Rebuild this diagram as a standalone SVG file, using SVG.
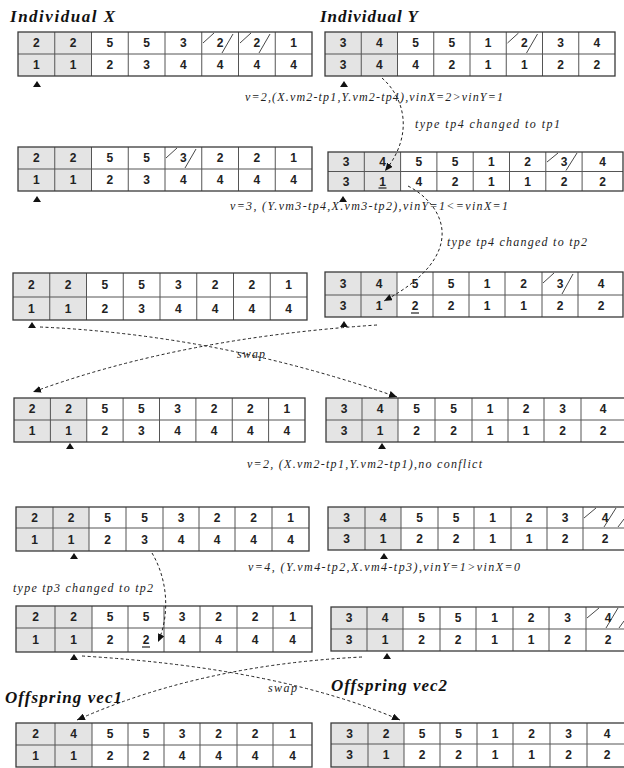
<svg xmlns="http://www.w3.org/2000/svg" width="624" height="768" viewBox="0 0 624 768">
<style>
.bg{fill:#fff}
.g{fill:#e4e4e4}
.ob{fill:none;stroke:#3a3a3a;stroke-width:1.3}
.il{stroke:#555;stroke-width:1}
.n{font-family:"Liberation Sans",Arial,sans-serif;font-weight:bold;font-size:12px;text-anchor:middle;fill:#222}
.t{font-family:"Liberation Serif","Times New Roman",serif;font-style:italic;font-weight:bold;font-size:17px;fill:#111}
.a{font-family:"Liberation Serif","Times New Roman",serif;font-style:italic;font-size:12px;fill:#222}
.h{stroke:#333;stroke-width:0.9}
.tri{fill:#111}
.d{fill:none;stroke:#222;stroke-width:1;stroke-dasharray:3 2.5}
.u{stroke:#222;stroke-width:1.2}
</style>
<defs>
<marker id="ah" markerUnits="userSpaceOnUse" markerWidth="9" markerHeight="7" refX="8" refY="3.5" orient="auto"><path d="M0,0 L8,3.5 L0,7 z" fill="#111"/></marker>
</defs>

<text class="t" x="10" y="22" textLength="105" lengthAdjust="spacing">Individual X</text>
<text class="t" x="320" y="22" textLength="98" lengthAdjust="spacing">Individual Y</text>

<!-- Row 1 left -->
<g id="t1l">
<rect class="bg" x="18" y="32" width="294" height="44"/>
<rect class="g" x="18" y="32" width="73.5" height="44"/>
<g class="il"><line x1="18" y1="54" x2="312" y2="54"/><line x1="54.75" y1="32" x2="54.75" y2="76"/><line x1="91.5" y1="32" x2="91.5" y2="76"/><line x1="128.25" y1="32" x2="128.25" y2="76"/><line x1="165" y1="32" x2="165" y2="76"/><line x1="201.75" y1="32" x2="201.75" y2="76"/><line x1="238.5" y1="32" x2="238.5" y2="76"/><line x1="275.25" y1="32" x2="275.25" y2="76"/></g>
<rect class="ob" x="18" y="32" width="294" height="44"/>
<g class="h"><line x1="203" y1="43" x2="214" y2="33"/><line x1="222" y1="53" x2="233" y2="34"/><line x1="240" y1="43" x2="251" y2="33"/><line x1="259" y1="53" x2="270" y2="34"/></g>
<text class="n" x="36.4" y="47.3">2</text><text class="n" x="73.1" y="47.3">2</text><text class="n" x="109.9" y="47.3">5</text><text class="n" x="146.6" y="47.3">5</text><text class="n" x="183.4" y="47.3">3</text><text class="n" x="220.1" y="47.3">2</text><text class="n" x="256.9" y="47.3">2</text><text class="n" x="293.6" y="47.3">1</text>
<text class="n" x="36.4" y="69.3">1</text><text class="n" x="73.1" y="69.3">1</text><text class="n" x="109.9" y="69.3">2</text><text class="n" x="146.6" y="69.3">3</text><text class="n" x="183.4" y="69.3">4</text><text class="n" x="220.1" y="69.3">4</text><text class="n" x="256.9" y="69.3">4</text><text class="n" x="293.6" y="69.3">4</text>
<polygon class="tri" points="33,87 41,87 37,81"/>
</g>

<!-- Row 1 right -->
<g id="t1r">
<rect class="bg" x="325" y="32" width="290" height="44"/>
<rect class="g" x="325" y="32" width="72.5" height="44"/>
<g class="il"><line x1="325" y1="54" x2="615" y2="54"/><line x1="361.25" y1="32" x2="361.25" y2="76"/><line x1="397.5" y1="32" x2="397.5" y2="76"/><line x1="433.75" y1="32" x2="433.75" y2="76"/><line x1="470" y1="32" x2="470" y2="76"/><line x1="506.25" y1="32" x2="506.25" y2="76"/><line x1="542.5" y1="32" x2="542.5" y2="76"/><line x1="578.75" y1="32" x2="578.75" y2="76"/></g>
<rect class="ob" x="325" y="32" width="290" height="44"/>
<g class="h"><line x1="507.5" y1="43" x2="518.5" y2="33"/><line x1="526.5" y1="53" x2="537.5" y2="34"/></g>
<text class="n" x="343.1" y="47.3">3</text><text class="n" x="379.4" y="47.3">4</text><text class="n" x="415.6" y="47.3">5</text><text class="n" x="451.9" y="47.3">5</text><text class="n" x="488.1" y="47.3">1</text><text class="n" x="524.4" y="47.3">2</text><text class="n" x="560.6" y="47.3">3</text><text class="n" x="596.9" y="47.3">4</text>
<text class="n" x="343.1" y="69.3">3</text><text class="n" x="379.4" y="69.3">4</text><text class="n" x="415.6" y="69.3">4</text><text class="n" x="451.9" y="69.3">2</text><text class="n" x="488.1" y="69.3">1</text><text class="n" x="524.4" y="69.3">1</text><text class="n" x="560.6" y="69.3">2</text><text class="n" x="596.9" y="69.3">2</text>
<polygon class="tri" points="340,87 348,87 344,81"/>
</g>

<!-- Row 2 left -->
<g id="t2l">
<rect class="bg" x="18" y="147" width="294" height="44"/>
<rect class="g" x="18" y="147" width="73.5" height="44"/>
<g class="il"><line x1="18" y1="169" x2="312" y2="169"/><line x1="54.75" y1="147" x2="54.75" y2="191"/><line x1="91.5" y1="147" x2="91.5" y2="191"/><line x1="128.25" y1="147" x2="128.25" y2="191"/><line x1="165" y1="147" x2="165" y2="191"/><line x1="201.75" y1="147" x2="201.75" y2="191"/><line x1="238.5" y1="147" x2="238.5" y2="191"/><line x1="275.25" y1="147" x2="275.25" y2="191"/></g>
<rect class="ob" x="18" y="147" width="294" height="44"/>
<g class="h"><line x1="166" y1="158" x2="177" y2="148"/><line x1="185" y1="168" x2="196" y2="149"/></g>
<text class="n" x="36.4" y="162.3">2</text><text class="n" x="73.1" y="162.3">2</text><text class="n" x="109.9" y="162.3">5</text><text class="n" x="146.6" y="162.3">5</text><text class="n" x="183.4" y="162.3">3</text><text class="n" x="220.1" y="162.3">2</text><text class="n" x="256.9" y="162.3">2</text><text class="n" x="293.6" y="162.3">1</text>
<text class="n" x="36.4" y="184.3">1</text><text class="n" x="73.1" y="184.3">1</text><text class="n" x="109.9" y="184.3">2</text><text class="n" x="146.6" y="184.3">3</text><text class="n" x="183.4" y="184.3">4</text><text class="n" x="220.1" y="184.3">4</text><text class="n" x="256.9" y="184.3">4</text><text class="n" x="293.6" y="184.3">4</text>
<polygon class="tri" points="33,202 41,202 37,196"/>
</g>

<!-- Row 2 right -->
<g id="t2r">
<rect class="bg" x="328" y="152" width="295" height="39"/>
<rect class="g" x="328" y="152" width="72.6" height="39"/>
<g class="il"><line x1="328" y1="171.5" x2="623" y2="171.5"/><line x1="364.3" y1="152" x2="364.3" y2="191"/><line x1="400.6" y1="152" x2="400.6" y2="191"/><line x1="436.9" y1="152" x2="436.9" y2="191"/><line x1="473.2" y1="152" x2="473.2" y2="191"/><line x1="509.5" y1="152" x2="509.5" y2="191"/><line x1="545.8" y1="152" x2="545.8" y2="191"/><line x1="582.1" y1="152" x2="582.1" y2="191"/></g>
<rect class="ob" x="328" y="152" width="295" height="39"/>
<g class="h"><line x1="547" y1="162" x2="558" y2="153"/><line x1="566" y1="170.5" x2="577" y2="153"/></g>
<text class="n" x="346.2" y="166">3</text><text class="n" x="382.5" y="166">4</text><text class="n" x="418.8" y="166">5</text><text class="n" x="455.1" y="166">5</text><text class="n" x="491.4" y="166">1</text><text class="n" x="527.7" y="166">2</text><text class="n" x="564" y="166">3</text><text class="n" x="602.5" y="166">4</text>
<text class="n" x="346.2" y="185.5">3</text><text class="n" x="382.5" y="185.5">1</text><text class="n" x="418.8" y="185.5">4</text><text class="n" x="455.1" y="185.5">2</text><text class="n" x="491.4" y="185.5">1</text><text class="n" x="527.7" y="185.5">1</text><text class="n" x="564" y="185.5">2</text><text class="n" x="602.5" y="185.5">2</text>
<line class="u" x1="378.5" y1="188" x2="386.5" y2="188"/>
<polygon class="tri" points="339,202 347,202 343,196"/>
</g>

<!-- Row 3 left -->
<g id="t3l">
<rect class="bg" x="13" y="273" width="294" height="47"/>
<rect class="g" x="13" y="273" width="73.5" height="47"/>
<g class="il"><line x1="13" y1="297" x2="307" y2="297"/><line x1="49.75" y1="273" x2="49.75" y2="320"/><line x1="86.5" y1="273" x2="86.5" y2="320"/><line x1="123.25" y1="273" x2="123.25" y2="320"/><line x1="160" y1="273" x2="160" y2="320"/><line x1="196.75" y1="273" x2="196.75" y2="320"/><line x1="233.5" y1="273" x2="233.5" y2="320"/><line x1="270.25" y1="273" x2="270.25" y2="320"/></g>
<rect class="ob" x="13" y="273" width="294" height="47"/>
<text class="n" x="31.4" y="289.3">2</text><text class="n" x="68.1" y="289.3">2</text><text class="n" x="104.9" y="289.3">5</text><text class="n" x="141.6" y="289.3">5</text><text class="n" x="178.4" y="289.3">3</text><text class="n" x="215.1" y="289.3">2</text><text class="n" x="251.9" y="289.3">2</text><text class="n" x="288.6" y="289.3">1</text>
<text class="n" x="31.4" y="312.8">1</text><text class="n" x="68.1" y="312.8">1</text><text class="n" x="104.9" y="312.8">2</text><text class="n" x="141.6" y="312.8">3</text><text class="n" x="178.4" y="312.8">4</text><text class="n" x="215.1" y="312.8">4</text><text class="n" x="251.9" y="312.8">4</text><text class="n" x="288.6" y="312.8">4</text>
<polygon class="tri" points="28,328 36,328 32,322"/>
</g>

<!-- Row 3 right -->
<g id="t3r">
<rect class="bg" x="325" y="272" width="298" height="45"/>
<rect class="g" x="325" y="272" width="72" height="45"/>
<g class="il"><line x1="325" y1="295" x2="623" y2="295"/><line x1="361" y1="272" x2="361" y2="317"/><line x1="397" y1="272" x2="397" y2="317"/><line x1="433" y1="272" x2="433" y2="317"/><line x1="469" y1="272" x2="469" y2="317"/><line x1="505" y1="272" x2="505" y2="317"/><line x1="542" y1="272" x2="542" y2="317"/><line x1="578" y1="272" x2="578" y2="317"/></g>
<rect class="ob" x="325" y="272" width="298" height="45"/>
<g class="h"><line x1="543" y1="283" x2="554" y2="273"/><line x1="562" y1="294" x2="573" y2="274"/></g>
<text class="n" x="343" y="287.8">3</text><text class="n" x="379" y="287.8">4</text><text class="n" x="415" y="287.8">5</text><text class="n" x="451" y="287.8">5</text><text class="n" x="487" y="287.8">1</text><text class="n" x="523.5" y="287.8">2</text><text class="n" x="560" y="287.8">3</text><text class="n" x="601" y="287.8">4</text>
<text class="n" x="343" y="310.3">3</text><text class="n" x="379" y="310.3">1</text><text class="n" x="415" y="310.3">2</text><text class="n" x="451" y="310.3">2</text><text class="n" x="487" y="310.3">1</text><text class="n" x="523.5" y="310.3">1</text><text class="n" x="560" y="310.3">2</text><text class="n" x="601" y="310.3">2</text>
<line class="u" x1="411" y1="313" x2="419" y2="313"/>
<polygon class="tri" points="340,327 348,327 344,321"/>
</g>

<!-- Row 4 left -->
<g id="t4l">
<rect class="bg" x="14" y="398" width="291" height="44"/>
<rect class="g" x="14" y="398" width="72.75" height="44"/>
<g class="il"><line x1="14" y1="420" x2="305" y2="420"/><line x1="50.4" y1="398" x2="50.4" y2="442"/><line x1="86.75" y1="398" x2="86.75" y2="442"/><line x1="123.1" y1="398" x2="123.1" y2="442"/><line x1="159.5" y1="398" x2="159.5" y2="442"/><line x1="195.9" y1="398" x2="195.9" y2="442"/><line x1="232.25" y1="398" x2="232.25" y2="442"/><line x1="268.6" y1="398" x2="268.6" y2="442"/></g>
<rect class="ob" x="14" y="398" width="291" height="44"/>
<text class="n" x="32.2" y="413.3">2</text><text class="n" x="68.6" y="413.3">2</text><text class="n" x="104.9" y="413.3">5</text><text class="n" x="141.3" y="413.3">5</text><text class="n" x="177.7" y="413.3">3</text><text class="n" x="214" y="413.3">2</text><text class="n" x="250.4" y="413.3">2</text><text class="n" x="286.8" y="413.3">1</text>
<text class="n" x="32.2" y="435.3">1</text><text class="n" x="68.6" y="435.3">1</text><text class="n" x="104.9" y="435.3">2</text><text class="n" x="141.3" y="435.3">3</text><text class="n" x="177.7" y="435.3">4</text><text class="n" x="214" y="435.3">4</text><text class="n" x="250.4" y="435.3">4</text><text class="n" x="286.8" y="435.3">4</text>
<polygon class="tri" points="66,449 74,449 70,443"/>
</g>

<!-- Row 4 right -->
<g id="t4r">
<rect class="bg" x="326" y="398" width="299" height="44"/>
<rect class="g" x="326" y="398" width="72" height="44"/>
<g class="il"><line x1="326" y1="420" x2="625" y2="420"/><line x1="362" y1="398" x2="362" y2="442"/><line x1="398" y1="398" x2="398" y2="442"/><line x1="435" y1="398" x2="435" y2="442"/><line x1="472" y1="398" x2="472" y2="442"/><line x1="508" y1="398" x2="508" y2="442"/><line x1="544" y1="398" x2="544" y2="442"/><line x1="581" y1="398" x2="581" y2="442"/></g>
<rect class="ob" x="326" y="398" width="299" height="44"/>
<text class="n" x="344" y="413.3">3</text><text class="n" x="380" y="413.3">4</text><text class="n" x="416.5" y="413.3">5</text><text class="n" x="453.5" y="413.3">5</text><text class="n" x="490" y="413.3">1</text><text class="n" x="526" y="413.3">2</text><text class="n" x="562.5" y="413.3">3</text><text class="n" x="603" y="413.3">4</text>
<text class="n" x="344" y="435.3">3</text><text class="n" x="380" y="435.3">1</text><text class="n" x="416.5" y="435.3">2</text><text class="n" x="453.5" y="435.3">2</text><text class="n" x="490" y="435.3">1</text><text class="n" x="526" y="435.3">1</text><text class="n" x="562.5" y="435.3">2</text><text class="n" x="603" y="435.3">2</text>
<polygon class="tri" points="378,449 386,449 382,443"/>
</g>

<!-- Row 5 left -->
<g id="t5l">
<rect class="bg" x="16" y="507" width="293" height="44"/>
<rect class="g" x="16" y="507" width="73" height="44"/>
<g class="il"><line x1="16" y1="528" x2="309" y2="528"/><line x1="53" y1="507" x2="53" y2="551"/><line x1="89" y1="507" x2="89" y2="551"/><line x1="126" y1="507" x2="126" y2="551"/><line x1="163" y1="507" x2="163" y2="551"/><line x1="199" y1="507" x2="199" y2="551"/><line x1="235" y1="507" x2="235" y2="551"/><line x1="272" y1="507" x2="272" y2="551"/></g>
<rect class="ob" x="16" y="507" width="293" height="44"/>
<text class="n" x="34.5" y="521.8">2</text><text class="n" x="71" y="521.8">2</text><text class="n" x="107.5" y="521.8">5</text><text class="n" x="144.5" y="521.8">5</text><text class="n" x="181" y="521.8">3</text><text class="n" x="217" y="521.8">2</text><text class="n" x="253.5" y="521.8">2</text><text class="n" x="290.5" y="521.8">1</text>
<text class="n" x="34.5" y="543.8">1</text><text class="n" x="71" y="543.8">1</text><text class="n" x="107.5" y="543.8">2</text><text class="n" x="144.5" y="543.8">3</text><text class="n" x="181" y="543.8">4</text><text class="n" x="217" y="543.8">4</text><text class="n" x="253.5" y="543.8">4</text><text class="n" x="290.5" y="543.8">4</text>
<polygon class="tri" points="70,559 78,559 74,553"/>
</g>

<!-- Row 5 right -->
<g id="t5r">
<rect class="bg" x="328" y="507" width="297" height="43"/>
<rect class="g" x="328" y="507" width="73" height="43"/>
<g class="il"><line x1="328" y1="528" x2="625" y2="528"/><line x1="365" y1="507" x2="365" y2="550"/><line x1="401" y1="507" x2="401" y2="550"/><line x1="438" y1="507" x2="438" y2="550"/><line x1="474" y1="507" x2="474" y2="550"/><line x1="511" y1="507" x2="511" y2="550"/><line x1="547" y1="507" x2="547" y2="550"/><line x1="583" y1="507" x2="583" y2="550"/></g>
<rect class="ob" x="328" y="507" width="297" height="43"/>
<g class="h"><line x1="584" y1="518" x2="596" y2="508"/><line x1="604" y1="527" x2="616" y2="508"/><line x1="618" y1="527" x2="624" y2="519"/></g>
<text class="n" x="346.5" y="521.8">3</text><text class="n" x="383" y="521.8">4</text><text class="n" x="419.5" y="521.8">5</text><text class="n" x="456" y="521.8">5</text><text class="n" x="492.5" y="521.8">1</text><text class="n" x="529" y="521.8">2</text><text class="n" x="565" y="521.8">3</text><text class="n" x="605" y="521.8">4</text>
<text class="n" x="346.5" y="543.3">3</text><text class="n" x="383" y="543.3">1</text><text class="n" x="419.5" y="543.3">2</text><text class="n" x="456" y="543.3">2</text><text class="n" x="492.5" y="543.3">1</text><text class="n" x="529" y="543.3">1</text><text class="n" x="565" y="543.3">2</text><text class="n" x="605" y="543.3">2</text>
<polygon class="tri" points="380,559 388,559 384,553"/>
</g>

<!-- Row 6 left -->
<g id="t6l">
<rect class="bg" x="16" y="606" width="296" height="46"/>
<rect class="g" x="16" y="606" width="76" height="46"/>
<g class="il"><line x1="16" y1="628" x2="312" y2="628"/><line x1="55" y1="606" x2="55" y2="652"/><line x1="92" y1="606" x2="92" y2="652"/><line x1="128" y1="606" x2="128" y2="652"/><line x1="164" y1="606" x2="164" y2="652"/><line x1="200" y1="606" x2="200" y2="652"/><line x1="237" y1="606" x2="237" y2="652"/><line x1="273" y1="606" x2="273" y2="652"/></g>
<rect class="ob" x="16" y="606" width="296" height="46"/>
<text class="n" x="35.5" y="621.3">2</text><text class="n" x="73.5" y="621.3">2</text><text class="n" x="110" y="621.3">5</text><text class="n" x="146" y="621.3">5</text><text class="n" x="182" y="621.3">3</text><text class="n" x="218.5" y="621.3">2</text><text class="n" x="255" y="621.3">2</text><text class="n" x="292.5" y="621.3">1</text>
<text class="n" x="35.5" y="644.3">1</text><text class="n" x="73.5" y="644.3">1</text><text class="n" x="110" y="644.3">2</text><text class="n" x="146" y="644.3">2</text><text class="n" x="182" y="644.3">4</text><text class="n" x="218.5" y="644.3">4</text><text class="n" x="255" y="644.3">4</text><text class="n" x="292.5" y="644.3">4</text>
<line class="u" x1="142" y1="647" x2="150" y2="647"/>
<polygon class="tri" points="70,660 78,660 74,654"/>
</g>

<!-- Row 6 right -->
<g id="t6r">
<rect class="bg" x="331" y="607" width="294" height="44"/>
<rect class="g" x="331" y="607" width="72" height="44"/>
<g class="il"><line x1="331" y1="629" x2="625" y2="629"/><line x1="367" y1="607" x2="367" y2="651"/><line x1="403" y1="607" x2="403" y2="651"/><line x1="440" y1="607" x2="440" y2="651"/><line x1="476" y1="607" x2="476" y2="651"/><line x1="513" y1="607" x2="513" y2="651"/><line x1="549" y1="607" x2="549" y2="651"/><line x1="586" y1="607" x2="586" y2="651"/></g>
<rect class="ob" x="331" y="607" width="294" height="44"/>
<g class="h"><line x1="587" y1="618" x2="599" y2="608"/><line x1="606" y1="628" x2="618" y2="608"/><line x1="619" y1="628" x2="624" y2="621"/></g>
<text class="n" x="349" y="622.3">3</text><text class="n" x="385" y="622.3">4</text><text class="n" x="421.5" y="622.3">5</text><text class="n" x="458" y="622.3">5</text><text class="n" x="494.5" y="622.3">1</text><text class="n" x="531" y="622.3">2</text><text class="n" x="567.5" y="622.3">3</text><text class="n" x="608" y="622.3">4</text>
<text class="n" x="349" y="644.3">3</text><text class="n" x="385" y="644.3">1</text><text class="n" x="421.5" y="644.3">2</text><text class="n" x="458" y="644.3">2</text><text class="n" x="494.5" y="644.3">1</text><text class="n" x="531" y="644.3">1</text><text class="n" x="567.5" y="644.3">2</text><text class="n" x="608" y="644.3">2</text>
<polygon class="tri" points="383,659 391,659 387,653"/>
</g>

<!-- Offspring -->
<text class="t" x="5" y="703" textLength="117" lengthAdjust="spacing">Offspring vec1</text>
<text class="t" x="331" y="691" textLength="116" lengthAdjust="spacing">Offspring vec2</text>

<g id="t7l">
<rect class="bg" x="16" y="723" width="296" height="44"/>
<rect class="g" x="16" y="723" width="76" height="44"/>
<g class="il"><line x1="16" y1="745" x2="312" y2="745"/><line x1="55" y1="723" x2="55" y2="767"/><line x1="92" y1="723" x2="92" y2="767"/><line x1="128" y1="723" x2="128" y2="767"/><line x1="164" y1="723" x2="164" y2="767"/><line x1="200" y1="723" x2="200" y2="767"/><line x1="237" y1="723" x2="237" y2="767"/><line x1="273" y1="723" x2="273" y2="767"/></g>
<rect class="ob" x="16" y="723" width="296" height="44"/>
<text class="n" x="35.5" y="738.3">2</text><text class="n" x="73.5" y="738.3">4</text><text class="n" x="110" y="738.3">5</text><text class="n" x="146" y="738.3">5</text><text class="n" x="182" y="738.3">3</text><text class="n" x="218.5" y="738.3">2</text><text class="n" x="255" y="738.3">2</text><text class="n" x="292.5" y="738.3">1</text>
<text class="n" x="35.5" y="760.3">1</text><text class="n" x="73.5" y="760.3">1</text><text class="n" x="110" y="760.3">2</text><text class="n" x="146" y="760.3">2</text><text class="n" x="182" y="760.3">4</text><text class="n" x="218.5" y="760.3">4</text><text class="n" x="255" y="760.3">4</text><text class="n" x="292.5" y="760.3">4</text>
</g>

<g id="t7r">
<rect class="bg" x="331" y="723" width="294" height="44"/>
<rect class="g" x="331" y="723" width="73" height="44"/>
<g class="il"><line x1="331" y1="744" x2="625" y2="744"/><line x1="368" y1="723" x2="368" y2="767"/><line x1="404" y1="723" x2="404" y2="767"/><line x1="440" y1="723" x2="440" y2="767"/><line x1="477" y1="723" x2="477" y2="767"/><line x1="513" y1="723" x2="513" y2="767"/><line x1="550" y1="723" x2="550" y2="767"/><line x1="587" y1="723" x2="587" y2="767"/></g>
<rect class="ob" x="331" y="723" width="294" height="44"/>
<text class="n" x="349.5" y="737.8">3</text><text class="n" x="386" y="737.8">2</text><text class="n" x="422" y="737.8">5</text><text class="n" x="458.5" y="737.8">5</text><text class="n" x="495" y="737.8">1</text><text class="n" x="531.5" y="737.8">2</text><text class="n" x="568.5" y="737.8">3</text><text class="n" x="607" y="737.8">4</text>
<text class="n" x="349.5" y="759.3">3</text><text class="n" x="386" y="759.3">1</text><text class="n" x="422" y="759.3">2</text><text class="n" x="458.5" y="759.3">2</text><text class="n" x="495" y="759.3">1</text><text class="n" x="531.5" y="759.3">1</text><text class="n" x="568.5" y="759.3">2</text><text class="n" x="607" y="759.3">2</text>
</g>

<!-- Annotations -->
<text class="a" x="245" y="101" textLength="258" lengthAdjust="spacing">v=2,(X.vm2-tp1,Y.vm2-tp4),vinX=2&gt;vinY=1</text>
<text class="a" x="415" y="128" textLength="145" lengthAdjust="spacing">type tp4 changed to tp1</text>
<text class="a" x="230" y="210" textLength="278" lengthAdjust="spacing">v=3, (Y.vm3-tp4,X.vm3-tp2),vinY=1&lt;=vinX=1</text>
<text class="a" x="447" y="246" textLength="140" lengthAdjust="spacing">type tp4 changed to tp2</text>
<text class="a" x="237" y="358" textLength="28" lengthAdjust="spacing">swap</text>
<text class="a" x="247" y="468" textLength="235" lengthAdjust="spacing">v=2, (X.vm2-tp1,Y.vm2-tp1),no conflict</text>
<text class="a" x="248" y="571" textLength="272" lengthAdjust="spacing">v=4, (Y.vm4-tp2,X.vm4-tp3),vinY=1&gt;vinX=0</text>
<text class="a" x="13" y="592" textLength="140" lengthAdjust="spacing">type tp3 changed to tp2</text>
<text class="a" x="268" y="692" textLength="29" lengthAdjust="spacing">swap</text>

<!-- Connectors -->
<g id="connectors">
<path class="d" d="M382,78 C405,98 414,135 385,171" marker-end="url(#ah)"/>
<path class="d" d="M408,186 C445,205 470,255 384,301" marker-end="url(#ah)"/>
<path class="d" d="M40,327 Q220,335 397,397" marker-end="url(#ah)"/>
<path class="d" d="M377,325 Q180,338 33,392" marker-end="url(#ah)"/>
<path class="d" d="M152,553 C168,580 170,615 158,642" marker-end="url(#ah)"/>
<path class="d" d="M82,656 Q280,668 400,720" marker-end="url(#ah)"/>
<path class="d" d="M362,657 Q200,665 77,720" marker-end="url(#ah)"/>
</g>
</svg>
